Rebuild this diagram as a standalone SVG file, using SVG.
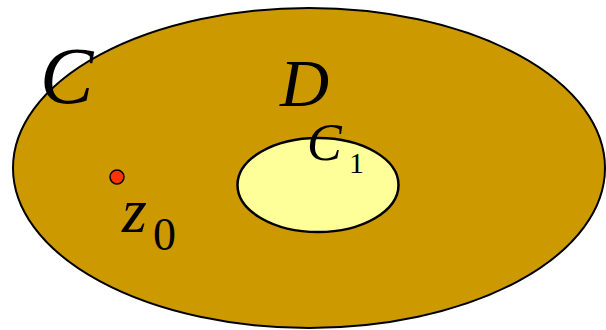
<svg xmlns="http://www.w3.org/2000/svg" width="606" height="330" viewBox="0 0 606 330">
<style>
.t{font-family:"Liberation Serif","Times New Roman",serif;fill:#000}
.i{font-style:italic}
</style>
<rect width="606" height="330" fill="#fff"/>
<g id="region-D">
<ellipse cx="309" cy="168" rx="296" ry="160" fill="#CC9900" stroke="#000" stroke-width="2"/>
</g>
<g id="region-C1">
<ellipse cx="318" cy="185" rx="80.5" ry="47" fill="#FFFF99" stroke="#000" stroke-width="2.5"/>
</g>
<g id="point-z0">
<circle cx="117" cy="177" r="7" fill="#FF3300" stroke="#000" stroke-width="1.5"/>
</g>
<g id="labels">
<text class="t i" x="40" y="103" font-size="80">C</text>
<text class="t i" x="280" y="106" font-size="68">D</text>
<text class="t i" x="307" y="160" font-size="52">C</text>
<text class="t" x="349" y="173" font-size="30">1</text>
<text class="t i" x="122" y="232" font-size="64">z</text>
<text class="t" x="153" y="250" font-size="46">0</text>
</g>
</svg>
